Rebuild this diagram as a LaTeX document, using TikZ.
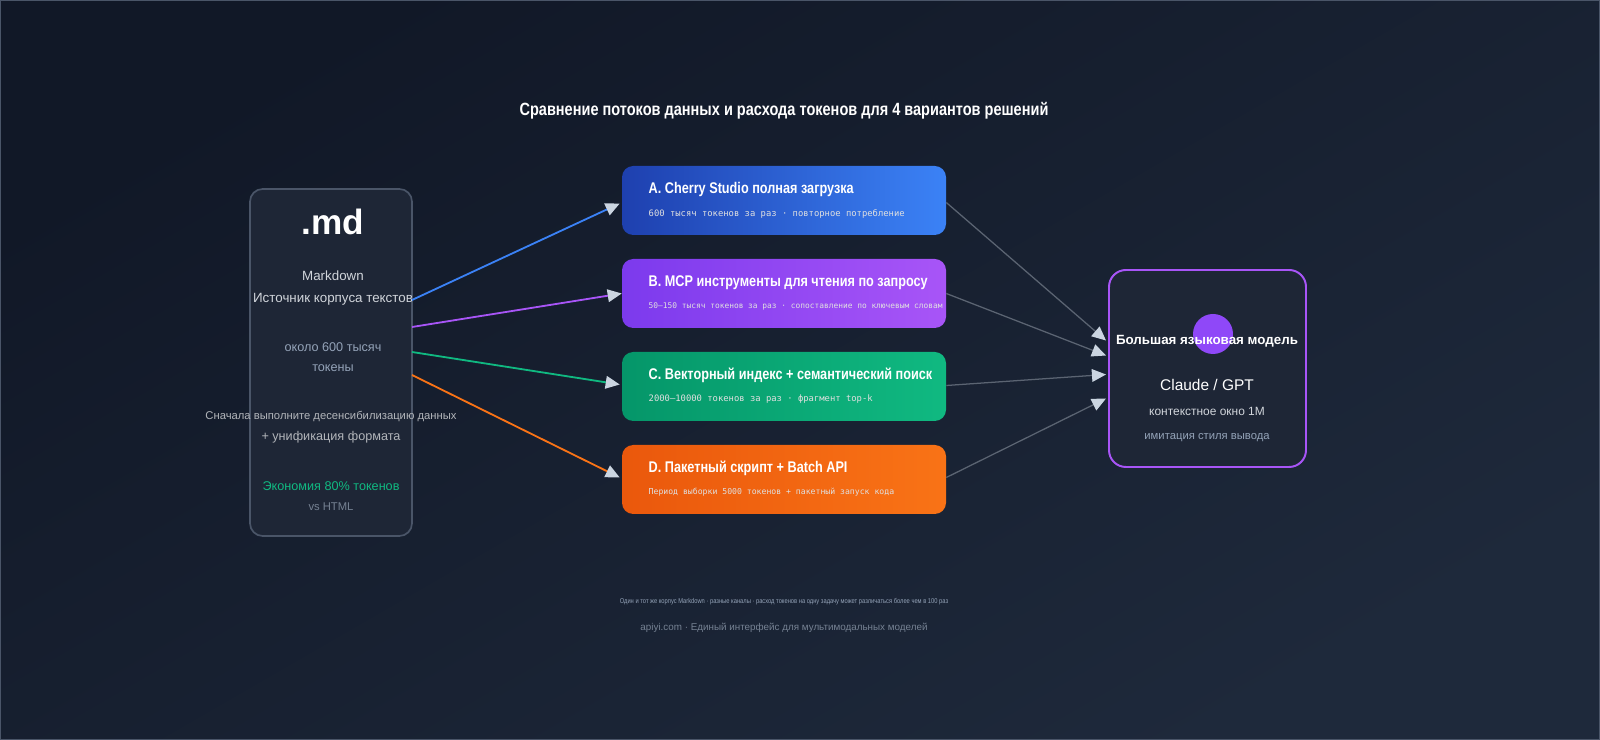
\documentclass[tikz,border=0pt]{standalone}
\usepackage{fontspec}
\setmainfont{Liberation Sans}
\newfontfamily\condfont{Liberation Sans}[FakeStretch=0.82]
\setmonofont{DejaVu Sans Mono}
\usetikzlibrary{arrows.meta,positioning,calc}
\definecolor{bgA}{HTML}{111827}
\definecolor{bgB}{HTML}{1E293B}
\definecolor{panel}{HTML}{1E2636}
\definecolor{panelline}{HTML}{4A5568}
\definecolor{tipcol}{HTML}{CBD5E1}
\definecolor{linkgray}{HTML}{5B6472}
\definecolor{txtgray}{HTML}{94A3B8}
\definecolor{txtlight}{HTML}{D1D5DB}
\definecolor{cblue}{HTML}{3B82F6}
\definecolor{cblueL}{HTML}{1E40AF}
\definecolor{cpurple}{HTML}{A855F7}
\definecolor{cpurpleL}{HTML}{7C3AED}
\definecolor{cgreen}{HTML}{10B981}
\definecolor{cgreenL}{HTML}{059669}
\definecolor{corange}{HTML}{F97316}
\definecolor{corangeL}{HTML}{EA580C}
\tikzset{
	srcbox/.style={draw=panelline,line width=1.2pt,fill=panel,rounded corners=9pt,minimum width=162*0.025cm,minimum height=347*0.025cm,inner sep=0},
	waybox/.style={rounded corners=8pt,minimum width=324*0.025cm,minimum height=69*0.025cm,inner sep=0},
	waytitle/.style={anchor=west,text=white,font=\condfont\bfseries\fontsize{11}{13}\selectfont},
	waysub/.style={anchor=west,text=white!88!black,font=\ttfamily\fontsize{6.3}{8}\selectfont},
	plain/.style={text=txtlight,font=\fontsize{9.5}{11}\selectfont},
	small/.style={text=txtgray,font=\fontsize{8}{10}\selectfont},
	inlink/.style={->,>={Triangle[width=9pt,length=10pt,color=tipcol]},line width=1.3pt},
	outlink/.style={->,>={Triangle[width=9pt,length=10pt,color=tipcol]},line width=0.9pt,linkgray}
}
\begin{document}
\begin{tikzpicture}[x=0.025cm,y=-0.025cm]
	% background
	\shade[top color=bgA,bottom color=bgB,shading angle=30] (0,0) rectangle (1600,740);
	\draw[panelline,line width=0.6pt] (0.5,0.5) rectangle (1599.5,739.5);
	\node[text=white,font=\condfont\bfseries\fontsize{12.6}{15}\selectfont] (title) at (784,111) {Сравнение потоков данных и расхода токенов для 4 вариантов решений};

	%%% source
	\node[srcbox] (src) at (331,362.5) {};
	\node[text=white,font=\bfseries\fontsize{25}{28}\selectfont] (md) at (333,222) {.md};
	\node[plain] (mdname) at (333,276) {Markdown};
	\node[plain] (mdsrc) at (333,299) {Источник корпуса текстов};
	\node[small,font=\fontsize{9}{11}\selectfont] (size1) at (333,347) {около 600 тысяч};
	\node[small,font=\fontsize{9}{11}\selectfont] (size2) at (333,368) {токены};
	\node[small,text=txtlight!85!black] (prep1) at (331,416) {Сначала выполните десенсибилизацию данных};
	\node[small,font=\fontsize{9}{11}\selectfont,text=txtlight!85!black] (prep2) at (331,437) {+ унификация формата};
	\node[small,font=\fontsize{9}{11}\selectfont,text=cgreen] (save1) at (331,486) {Экономия 80\% токенов};
	\node[small,text=txtgray!80!black] (save2) at (331,507) {vs HTML};

	%%% four ways
	\node[waybox,left color=cblueL,right color=cblue] (wayA) at (784,200.5) {};
	\node[waybox,left color=cpurpleL,right color=cpurple] (wayB) at (784,293.5) {};
	\node[waybox,left color=cgreenL,right color=cgreen] (wayC) at (784,386.5) {};
	\node[waybox,left color=corangeL,right color=corange] (wayD) at (784,479.5) {};
	\node[waytitle] at ($(wayA.west)+(22,-11)$) {A. Cherry Studio полная загрузка};
	\node[waysub] at ($(wayA.west)+(22,13)$) {600 тысяч токенов за раз · повторное потребление};
	\node[waytitle] at ($(wayB.west)+(22,-11)$) {B. MCP инструменты для чтения по запросу};
	\node[waysub,font=\ttfamily\fontsize{5.6}{8}\selectfont] at ($(wayB.west)+(22,13)$) {50–150 тысяч токенов за раз · сопоставление по ключевым словам};
	\node[waytitle] at ($(wayC.west)+(22,-11)$) {C. Векторный индекс + семантический поиск};
	\node[waysub] at ($(wayC.west)+(22,13)$) {2000–10000 токенов за раз · фрагмент top-k};
	\node[waytitle] at ($(wayD.west)+(22,-11)$) {D. Пакетный скрипт + Batch API};
	\node[waysub,font=\ttfamily\fontsize{5.8}{8}\selectfont] at ($(wayD.west)+(22,13)$) {Период выборки 5000 токенов + пакетный запуск кода};

	%%% model
	\node[draw=cpurple,line width=1.4pt,fill=panel,rounded corners=12pt,minimum width=197*0.025cm,minimum height=197*0.025cm] (llm) at (1207.5,368.5) {};
	\node[circle,fill=cpurple!85!blue,minimum size=40*0.025cm,inner sep=0] (llmdot) at (1213,334) {};
	\node[text=white,font=\bfseries\fontsize{9.5}{11}\selectfont] (llmname) at (1207,341) {Большая языковая модель};
	\node[text=white,font=\fontsize{11}{13}\selectfont] (llmgpt) at (1207,385) {Claude / GPT};
	\node[text=txtlight,font=\fontsize{8.5}{10}\selectfont] (llmctx) at (1207,411) {контекстное окно 1M};
	\node[small] (llmstyle) at (1207,438) {имитация стиля вывода};

	%%% links
	\coordinate (outA) at (412,300);
	\coordinate (outB) at (412,327);
	\coordinate (outC) at (412,352);
	\coordinate (outD) at (412,375);
	\draw[inlink,cblue] (outA) -- ($(wayA.west)+(-2,3)$);
	\draw[inlink,cpurple] (outB) -- (wayB.west);
	\draw[inlink,cgreen] (outC) -- ($(wayC.west)+(-2,-2)$);
	\draw[inlink,corange] (outD) -- ($(wayD.west)+(-2,-2)$);
	\draw[outlink] ($(wayA.east)+(0,2)$) -- ($(llm.west)+(-2,-28)$);
	\draw[outlink] ($(wayB.east)+(0,0)$) -- ($(llm.west)+(-2,-13)$);
	\draw[outlink] ($(wayC.east)+(0,-1)$) -- ($(llm.west)+(-2,6)$);
	\draw[outlink] ($(wayD.east)+(0,-2)$) -- ($(llm.west)+(-2,30)$);

	%%% footer
	\node[text=txtgray,font=\condfont\fontsize{5}{6}\selectfont] (foot1) at (784,602) {Один и тот же корпус Markdown · разные каналы · расход токенов на одну задачу может различаться более чем в 100 раз};
	\node[text=txtgray!80!black,font=\fontsize{7}{8}\selectfont] (foot2) at (784,628) {apiyi.com · Единый интерфейс для мультимодальных моделей};
\end{tikzpicture}
\end{document}
